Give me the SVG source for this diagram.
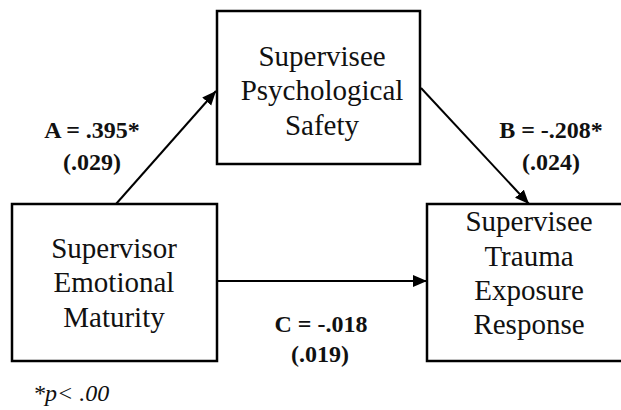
<svg xmlns="http://www.w3.org/2000/svg" width="621" height="410" viewBox="0 0 621 410">
<style>
.box{fill:#fff;stroke:#000;stroke-width:2.5}
.nt{font-family:"Liberation Serif","Times New Roman",serif;font-size:29px;fill:#111;text-anchor:middle}
.lb{font-family:"Liberation Serif","Times New Roman",serif;font-size:24px;font-weight:bold;fill:#111;text-anchor:middle}
.ft{font-family:"Liberation Serif","Times New Roman",serif;font-size:24px;font-style:italic;fill:#111}
.edge{stroke:#000;stroke-width:2;fill:none;marker-end:url(#ah)}
</style>
<defs>
<marker id="ah" markerUnits="userSpaceOnUse" markerWidth="16" markerHeight="14" refX="14" refY="6" orient="auto">
<path d="M0,0 L14,6 L0,12 Z" fill="#000"/>
</marker>
</defs>
<rect width="621" height="410" fill="#fff"/>
<g id="connectors">
<line class="edge" x1="116" y1="204" x2="216" y2="91"/>
<line class="edge" x1="421" y1="88" x2="529" y2="204"/>
<line class="edge" x1="218" y1="281" x2="427" y2="281"/>
</g>
<g id="node-psych">
<rect class="box" x="217" y="11" width="203" height="153"/>
<text class="nt" x="322" y="66">Supervisee</text>
<text class="nt" x="322" y="100">Psychological</text>
<text class="nt" x="322" y="135">Safety</text>
</g>
<g id="node-supervisor">
<rect class="box" x="12" y="204" width="205" height="157"/>
<text class="nt" x="114" y="258">Supervisor</text>
<text class="nt" x="114" y="292">Emotional</text>
<text class="nt" x="114" y="327">Maturity</text>
</g>
<g id="node-trauma">
<rect class="box" x="427" y="204" width="205" height="157"/>
<text class="nt" x="529" y="231">Supervisee</text>
<text class="nt" x="529" y="266">Trauma</text>
<text class="nt" x="529" y="300">Exposure</text>
<text class="nt" x="529" y="334">Response</text>
</g>
<g id="labels">
<text class="lb" x="92" y="138">A = .395*</text>
<text class="lb" x="92" y="170">(.029)</text>
<text class="lb" x="551" y="138">B = -.208*</text>
<text class="lb" x="551" y="170">(.024)</text>
<text class="lb" x="321" y="332">C = -.018</text>
<text class="lb" x="320" y="362">(.019)</text>
<text class="ft" x="33" y="401">*p&lt; .00</text>
</g>
</svg>
